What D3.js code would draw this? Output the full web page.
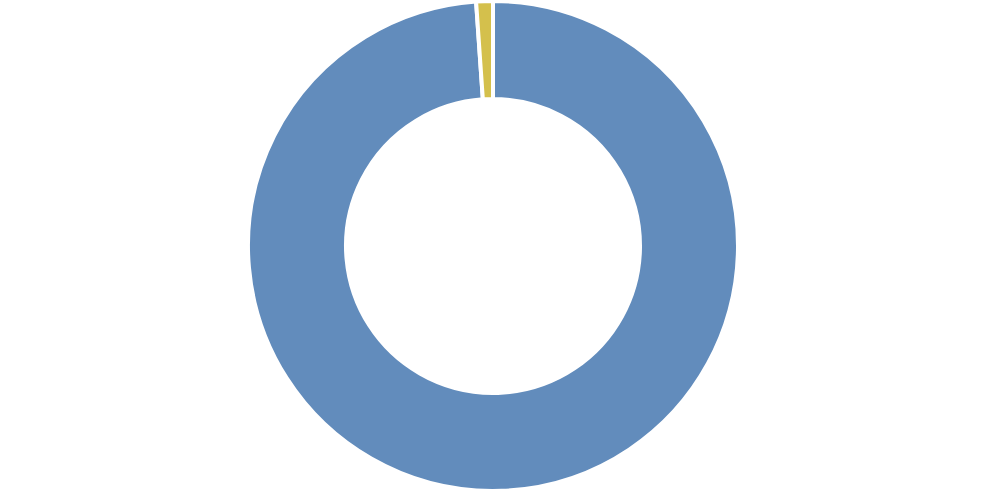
<!DOCTYPE html>
<html>
<head>
<meta charset="utf-8">
<script src="https://cdn.jsdelivr.net/npm/d3@7"></script>
<style>
  body { margin: 0; background: #fff; }
</style>
</head>
<body>
<div id="chart"></div>
<script>
// slice data
var categories = ["A", "B"];
var values = [98.9, 1.1];
var colors = ["#628cbc", "#d4c04c"];

var width = 986, height = 492;
var cx = 493, cy = 246;
// radii include the half of the white stroke that eats into the ring
var outer_r = 245, inner_r = 147;

var svg = d3.select("#chart")
    .append("svg")
    .attr("width", width)
    .attr("height", height)
    .append("g")
    .attr("transform", "translate(" + cx + "," + cy + ")");

var color = d3.scaleOrdinal().domain(categories).range(colors);

var pie = d3.pie().sort(null).value(function(d, i) { return values[i]; });
var arc = d3.arc().innerRadius(inner_r).outerRadius(outer_r);

svg.selectAll("path")
    .data(pie(categories))
    .enter()
    .append("path")
    .attr("d", arc)
    .style("fill", function(d) { return color(d.data); })
    .style("stroke", "#fff")
    .style("stroke-width", 4);
</script>
</body>
</html>
